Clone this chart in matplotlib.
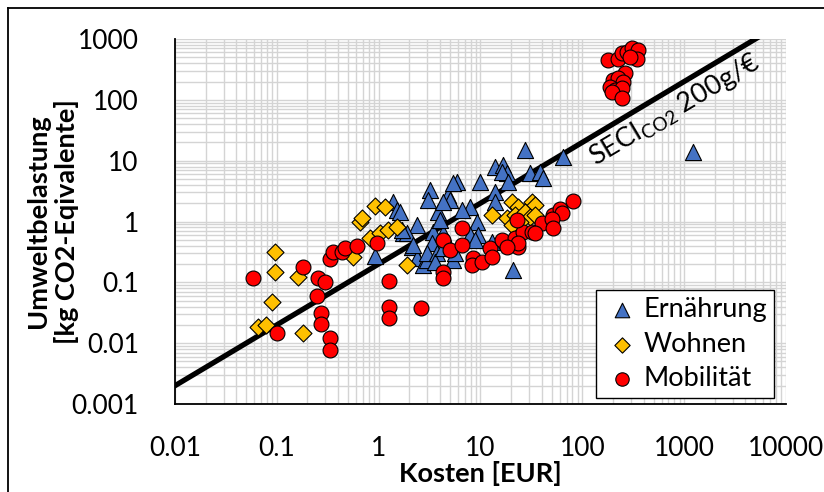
import numpy as np
import matplotlib
matplotlib.use("Agg")
import matplotlib.pyplot as plt
from matplotlib.lines import Line2D

plt.rcParams['font.family'] = ['Lato', 'DejaVu Sans']
plt.rcParams['mathtext.fontset'] = 'custom'
plt.rcParams['mathtext.rm'] = 'Lato'

# ---------------------------------------------------------------------
# Daten (Kosten in EUR, Umweltbelastung in kg CO2-Eq.)
ern_x = [0.92, 1.38, 1.51, 2.38, 1.73, 2.12, 2.38, 2.72, 2.98, 3.19, 3.05, 1.62,
         1.90, 2.17, 1.69, 3.42, 4.28, 4.69, 3.83, 4.0, 4.80, 5.02, 4.28, 5.88,
         5.37, 9.89, 13.9, 13.9, 7.89, 6.58, 9.25, 7.89, 9.46, 8.83, 3.34, 2.98,
         3.74, 3.57, 5.37, 5.62, 4.28, 13.0, 20.8, 27.4, 64.6, 13.9, 16.6, 18.2,
         16.3, 30.6, 38.4, 41.1, 18.6, 1222]
ern_y = [0.271, 2.09, 1.55, 0.877, 0.647, 0.381, 0.251, 0.193, 0.233, 3.30, 2.26, 1.43,
         0.647, 0.411, 0.725, 0.673, 0.647, 0.460, 1.43, 1.06, 2.73, 2.26, 2.09, 4.46,
         4.30, 4.46, 3.05, 2.09, 1.73, 1.55, 0.982, 0.600, 0.600, 0.497, 0.443, 0.304,
         0.304, 0.216, 0.233, 0.304, 0.367, 0.460, 0.160, 15.0, 11.5, 7.87, 8.49, 6.27,
         6.52, 6.27, 6.5, 5.19, 4.46, 13.9]

wohn_x = [0.0653, 0.0783, 0.0897, 0.096, 0.096, 0.161, 0.181, 0.56, 0.657, 0.686,
          0.822, 0.92, 1.15, 1.03, 1.24, 1.51, 1.90, 13.0, 20.4, 23.4, 32.1, 34.3,
          18.2, 21.8, 27.4, 30.6, 34.3, 20.4, 24.4]
wohn_y = [0.0184, 0.0199, 0.0475, 0.317, 0.148, 0.122, 0.0147, 0.261, 0.982, 1.14,
          0.536, 1.80, 1.73, 0.647, 0.725, 0.812, 0.193, 1.28, 2.09, 1.73, 2.09, 1.87,
          1.14, 1.28, 1.43, 1.19, 1.28, 0.877, 0.982]

mob_x = [0.058, 0.10, 0.181, 0.254, 0.297, 0.248, 0.272, 0.272, 0.333, 0.333,
         0.333, 0.356, 0.437, 0.467, 0.613, 0.963, 1.26, 1.26, 1.26, 2.61,
         4.28, 5.02, 6.58, 6.58, 8.44, 8.26, 10.4, 12.4, 13.0, 4.28, 4.28, 16.3,
         21.8, 23.4, 26.2, 32.1, 40.2, 51.5, 81, 60.4, 63.1, 50.4, 51.5, 34.3,
         22.8, 23.4, 18.2,
         178.6, 224, 245, 275, 308, 352, 344, 294, 262, 200, 224, 251, 187, 209,
         245, 196, 245]
mob_y = [0.118, 0.0147, 0.179, 0.118, 0.101, 0.0596, 0.0313, 0.0207, 0.0122, 0.0077,
         0.242, 0.317, 0.317, 0.367, 0.396, 0.443, 0.105, 0.039, 0.026, 0.038,
         0.497, 0.340, 0.782, 0.411, 0.251, 0.193, 0.216, 0.367, 0.261, 0.148, 0.118, 0.497,
         0.536, 0.381, 0.673, 0.673, 0.946, 1.28, 2.17, 1.61, 1.38, 1.10, 0.782, 0.647,
         1.06, 0.443, 0.381,
         452, 470, 589, 612, 712, 660, 470, 506, 276, 212, 229, 196, 163, 145,
         157, 135, 107]

seci = 0.2  # kg CO2 pro EUR (200 g/EUR)
ticks = [0.001, 0.01, 0.1, 1, 10, 100, 1000, 10000]
tick_labels = ['0.001', '0.01', '0.1', '1', '10', '100', '1000', '10000']

# ---------------------------------------------------------------------
fig = plt.figure(figsize=(8.24, 4.92), dpi=100)
ax = fig.add_axes([175/824, 1-404/492, 611/824, 365/492])

ax.set_xscale('log')
ax.set_yscale('log')
ax.set_xlim(0.01, 10000)
ax.set_ylim(0.001, 1000)

gc = '#d4d4d4'
ax.grid(True, which='both', color=gc, lw=1.0)
ax.set_axisbelow(True)

lx = np.array([0.01, 10000])
ax.plot(lx, seci*lx, color='black', lw=3.8, zorder=2)

ax.scatter(ern_x, ern_y, marker='^', s=135, c='#4472c4', edgecolors='black',
           linewidths=0.8, zorder=3, label='Ernährung')
ax.scatter(wohn_x, wohn_y, marker='D', s=75, c='#ffc000', edgecolors='black',
           linewidths=0.8, zorder=4, label='Wohnen')
ax.scatter(mob_x, mob_y, marker='o', s=115, c='#ff0000', edgecolors='black',
           linewidths=0.8, zorder=5, label='Mobilität')

ax.set_xticks(ticks[1:])
ax.set_xticklabels(tick_labels[1:])
ax.set_yticks(ticks[:-1])
ax.set_yticklabels(tick_labels[:-1])
ax.tick_params(which='both', length=0, labelsize=19)
ax.tick_params(axis='x', pad=23)
ax.tick_params(axis='y', pad=26)

for s in ['top', 'right']:
    ax.spines[s].set_visible(False)
for s in ['left', 'bottom']:
    ax.spines[s].set_color('black')
    ax.spines[s].set_linewidth(1.3)

ax.set_xlabel('Kosten [EUR]', fontsize=19.5, fontweight='bold', labelpad=0)
ax.set_ylabel('Umweltbelastung\n[kg CO2-Eqivalente]', fontsize=19.5,
              fontweight='bold', linespacing=1.2, va='center')
ax.yaxis.set_label_coords(-0.2, 0.5)

ax.text(0.818, 0.805, r'SECI$_{\mathregular{CO2}}$ 200g/€', transform=ax.transAxes,
        fontsize=19.5, rotation=30.8, rotation_mode='anchor',
        ha='center', va='center')

leg = ax.legend(loc='lower right', bbox_to_anchor=(0.980, 0.016), borderaxespad=0,
                fontsize=19.5, fancybox=False, edgecolor='black', framealpha=1,
                handletextpad=0.1, labelspacing=0.36, borderpad=0.25,
                handlelength=1.4, markerscale=0.9)
leg.get_frame().set_linewidth(1.0)

# Rahmen um die Grafik
fig.add_artist(Line2D([8/824, 1.0], [1-8/492, 1-8/492], color='black', lw=1.3))
fig.add_artist(Line2D([8/824, 8/824], [0.0, 1-8/492], color='black', lw=1.3))

fig.savefig('out.png', dpi=100)
